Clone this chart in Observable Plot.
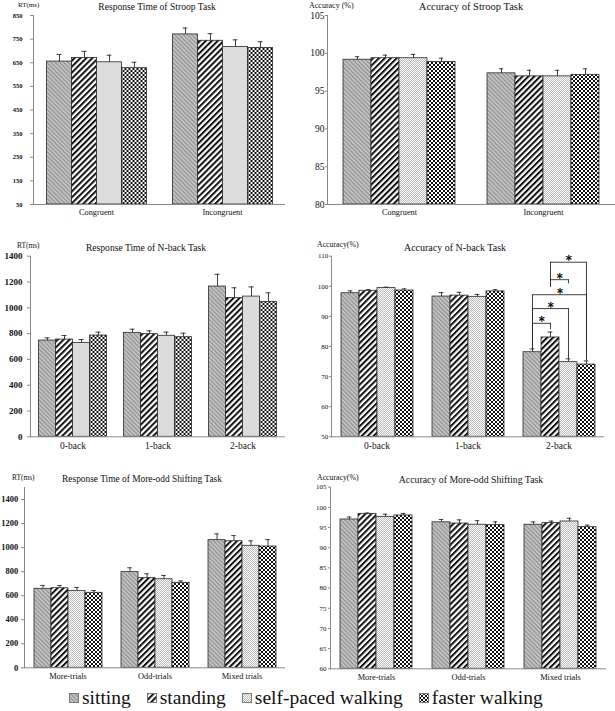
<!DOCTYPE html>
<html><head><meta charset="utf-8">
<script src="https://cdn.jsdelivr.net/npm/d3@7"></script>
<script src="https://cdn.jsdelivr.net/npm/@observablehq/plot@0.6"></script>
<style>
body{margin:0;background:#fff;}
#root{position:relative;width:615px;height:711px;overflow:hidden;font-family:"Liberation Serif","Times New Roman",serif;color:#111;}
.panel{position:absolute;}
.title{position:absolute;white-space:nowrap;transform:translate(-50%,-50%);}
.ylab{position:absolute;white-space:nowrap;transform:translateY(-50%);}
#legend{position:absolute;display:flex;align-items:center;white-space:nowrap;line-height:1;}
.li{display:flex;align-items:center;}
.li svg{margin-right:3px;}
</style></head><body>
<svg width="0" height="0" style="position:absolute">
<defs>
<pattern id="pSit" width="3" height="3" patternUnits="userSpaceOnUse" patternTransform="rotate(-45)"><rect width="3" height="3" fill="#c6c6c6"/><rect width="1.2" height="3" fill="#8e8e8e"/></pattern>
<pattern id="pSta" width="4.2" height="4.2" patternUnits="userSpaceOnUse" patternTransform="rotate(45)"><rect width="4.2" height="4.2" fill="#fff"/><rect width="2" height="4.2" fill="#111"/></pattern>
<pattern id="pSelf" width="2" height="2" patternUnits="userSpaceOnUse"><rect width="2" height="2" fill="#fbfbfb"/><rect width="1" height="1" fill="#bcbcbc"/><rect x="1" y="1" width="1" height="1" fill="#bcbcbc"/></pattern>
<pattern id="pFast" width="4" height="4" patternUnits="userSpaceOnUse"><rect width="4" height="4" fill="#fff"/><rect width="2" height="2" fill="#111"/><rect x="2" y="2" width="2" height="2" fill="#111"/></pattern>
</defs></svg>
<div id="root"></div>
<script>
// ---------- data ----------
const series = ["sitting", "standing", "self-paced walking", "faster walking"];
const seriesFills = ["url(#pSit)", "url(#pSta)", "url(#pSelf)", "url(#pFast)"];

const stroopCats = ["Congruent", "Incongruent"];
const stroopRT = [[655, 670, 652, 627], [770, 743, 717, 713]];
const stroopRTErr = [[30, 28, 30, 25], [27, 30, 30, 26]];
const stroopRTTicks = [50, 150, 250, 350, 450, 550, 650, 750, 850];

const stroopAcc = [[99.15, 99.35, 99.35, 98.85], [97.35, 96.95, 96.95, 97.15]];
const stroopAccErr = [[0.4, 0.4, 0.5, 0.5], [0.6, 0.8, 0.8, 0.8]];
const stroopAccTicks = [80, 85, 90, 95, 100, 105];

const nbackCats = ["0-back", "1-back", "2-back"];
const nbackRT = [[746, 754, 728, 785], [806, 796, 783, 772], [1165, 1075, 1087, 1046]];
const nbackRTErr = [[21, 31, 26, 26], [28, 25, 28, 31], [95, 80, 75, 70]];
const nbackRTTicks = [0, 200, 400, 600, 800, 1000, 1200, 1400];

const nbackAcc = [[97.7, 98.5, 99.4, 98.6], [96.6, 96.9, 96.5, 98.3], [78.1, 83.0, 74.8, 74.0]];
const nbackAccErr = [[0.8, 0.4, 0.3, 0.55], [1.3, 1.1, 0.8, 0.6], [1.1, 1.8, 1.1, 1.2]];
const nbackAccTicks = [50, 60, 70, 80, 90, 100, 110];

// significance brackets (2-back accuracy)
const sigPairs = [["sitting", "standing"], ["sitting", "self-paced walking"], ["sitting", "faster walking"], ["standing", "self-paced walking"], ["standing", "faster walking"]];
const sigLevels = [87.7, 92.6, 97.2, 102.2, 108.0];
const sigLegEnds = [[78.7, 85.6], [78.7, 76.0], [78.7, 75.4], [99.7, 100.8], [99.7, 75.4]];

const shiftCats = ["More-trials", "Odd-trials", "Mixed trials"];
const shiftRT = [[657, 662, 640, 624], [796, 746, 737, 707], [1062, 1053, 1015, 1009]];
const shiftRTErr = [[28, 23, 28, 19], [36, 36, 31, 16], [52, 47, 41, 58]];
const shiftRTTicks = [0, 200, 400, 600, 800, 1000, 1200, 1400];

const shiftAcc = [[97.0, 98.4, 97.65, 98.0], [96.3, 96.0, 95.7, 95.6], [95.7, 96.1, 96.5, 95.1]];
const shiftAccErr = [[0.6, 0.2, 0.65, 0.5], [0.7, 0.9, 1.0, 0.8], [0.7, 0.5, 0.8, 0.5]];
const shiftAccTicks = [60, 65, 70, 75, 80, 85, 90, 95, 100, 105];

// ---------- drawing ----------
const root = document.getElementById("root");
const groupPad = 0.5;
const axisGray = "#8a8a8a";
const ink = "#2a2a2a";

function addText(cls, txt, x, y, size) {
  const d = document.createElement("div");
  d.className = cls; d.textContent = txt;
  d.style.left = x + "px"; d.style.top = y + "px"; d.style.fontSize = size + "px";
  root.appendChild(d);
}

function panel(c) {
  const data = [];
  c.cats.forEach((cat, i) => series.forEach((s, j) =>
    data.push({cat, series: s, value: c.vals[i][j], hi: c.vals[i][j] + c.errs[i][j]})));
  const plotW = c.width - c.mL - c.mR;
  const bw = plotW / c.cats.length / (series.length + 2 * groupPad);
  const cap = Math.max(0, bw / 2 - 2.5);
  const base = c.domain[0];
  const marks = [
    Plot.barY(data, {fx: "cat", x: "series", y1: () => base, y2: "value", fill: "series", stroke: ink, strokeWidth: 0.8}),
    Plot.ruleX(data, {fx: "cat", x: "series", y1: "value", y2: "hi", stroke: ink, strokeWidth: 0.9}),
    Plot.tickY(data, {fx: "cat", x: "series", y: "hi", stroke: ink, strokeWidth: 0.9, insetLeft: cap, insetRight: cap}),
    Plot.ruleY([base], {stroke: axisGray}),
    Plot.frame({anchor: "left", facetAnchor: "left", stroke: axisGray}),
    Plot.axisY({ticks: c.ticks, tickFormat: d => String(d), tickSize: c.tickSize, tickPadding: c.tickPad, stroke: axisGray, fill: "#111",
      fontSize: c.tickFont, fontWeight: c.tickBold ? "bold" : "normal", label: null}),
    Plot.axisFx({anchor: "bottom", tickSize: 0, tickPadding: c.catPad, fontSize: c.catFont, fill: "#111", label: null})
  ];
  if (c.extra) marks.push(...c.extra(bw));
  const chart = Plot.plot({
    width: c.width, height: c.mT + c.plotH + c.mB,
    marginLeft: c.mL, marginRight: c.mR, marginTop: c.mT, marginBottom: c.mB,
    style: {fontFamily: "'Liberation Serif', 'Times New Roman', serif", background: "transparent", color: "#111"},
    fx: {domain: c.cats, padding: 0, label: null},
    x: {domain: series, paddingInner: 0, paddingOuter: groupPad, axis: null},
    y: {domain: c.domain, label: null},
    color: {type: "ordinal", domain: series, range: seriesFills},
    marks
  });
  const wrap = document.createElement("div");
  wrap.className = "panel";
  wrap.style.left = c.left + "px"; wrap.style.top = c.top + "px";
  wrap.appendChild(chart);
  root.appendChild(wrap);
  addText("title", c.title, c.titleX, c.titleY, c.titleFont);
  addText("ylab", c.ylab, c.ylabX, c.ylabY, c.ylabFont);
}

function sigMarks(bw) {
  const sig = sigPairs.map((p, i) => ({cat: "2-back", a: p[0], b: p[1], level: sigLevels[i],
    endA: sigLegEnds[i][0], endB: sigLegEnds[i][1], span: series.indexOf(p[1]) - series.indexOf(p[0])}));
  const m = [
    Plot.ruleX(sig, {fx: "cat", x: "a", y1: "endA", y2: "level", stroke: ink, strokeWidth: 0.9}),
    Plot.ruleX(sig, {fx: "cat", x: "b", y1: "endB", y2: "level", stroke: ink, strokeWidth: 0.9}),
    Plot.link(sig, {fx: "cat", x1: "a", x2: "b", y1: "level", y2: "level", stroke: ink, strokeWidth: 0.9})
  ];
  for (const span of [1, 2, 3]) {
    m.push(Plot.text(sig.filter(d => d.span === span), {fx: "cat", x: "a", y: "level", text: () => "*",
      dx: span * bw / 2, dy: 2, lineAnchor: "bottom", fontSize: 12, fontFamily: "'DejaVu Sans', sans-serif",
      fill: "#000", stroke: "#000", strokeWidth: 0.3}));
  }
  return m;
}

panel({cats: stroopCats, vals: stroopRT, errs: stroopRTErr, domain: [50, 850], ticks: stroopRTTicks,
  left: 0, top: 0, width: 300, mL: 32.5, mR: 15.5, mT: 15, plotH: 189, mB: 22,
  tickSize: 3, tickPad: 8, tickFont: 6.5, tickBold: true, catFont: 8.3, catPad: 4.5,
  title: "Response Time  of Stroop Task", titleX: 157, titleY: 6, titleFont: 9.6,
  ylab: "RT(ms)", ylabX: 18, ylabY: 5, ylabFont: 7});

panel({cats: stroopCats, vals: stroopAcc, errs: stroopAccErr, domain: [80, 105], ticks: stroopAccTicks,
  left: 305, top: 0, width: 310, mL: 22, mR: 0, mT: 15, plotH: 189, mB: 22,
  tickSize: 2, tickPad: 1, tickFont: 9.5, tickBold: false, catFont: 8.3, catPad: 4.5,
  title: "Accuracy of Stroop Task", titleX: 471, titleY: 6, titleFont: 10.5,
  ylab: "Accuracy (%)", ylabX: 309, ylabY: 5, ylabFont: 8});

panel({cats: nbackCats, vals: nbackRT, errs: nbackRTErr, domain: [0, 1400], ticks: nbackRTTicks,
  left: 0, top: 235, width: 300, mL: 29.5, mR: 15.5, mT: 20.7, plotH: 180.6, mB: 22,
  tickSize: 3, tickPad: 5, tickFont: 9, tickBold: true, catFont: 9.5, catPad: 5,
  title: "Response Time  of N-back Task", titleX: 146, titleY: 247.3, titleFont: 9.6,
  ylab: "RT(ms)", ylabX: 17, ylabY: 245, ylabFont: 7.4});

panel({cats: nbackCats, vals: nbackAcc, errs: nbackAccErr, domain: [50, 110], ticks: nbackAccTicks,
  left: 305, top: 235, width: 310, mL: 25, mR: 10, mT: 20.7, plotH: 180.6, mB: 22,
  tickSize: 2, tickPad: 1.3, tickFont: 7, tickBold: false, catFont: 9.5, catPad: 5,
  title: "Accuracy of N-back Task", titleX: 455, titleY: 247, titleFont: 10,
  ylab: "Accuracy(%)", ylabX: 317, ylabY: 244, ylabFont: 7.8, extra: sigMarks});

panel({cats: shiftCats, vals: shiftRT, errs: shiftRTErr, domain: [0, 1500], ticks: shiftRTTicks,
  left: 0, top: 465, width: 300, mL: 23, mR: 14.5, mT: 22, plotH: 180.3, mB: 22,
  tickSize: 3, tickPad: 3.3, tickFont: 8.5, tickBold: true, catFont: 8.4, catPad: 5,
  title: "Response Time  of More-odd Shifting  Task", titleX: 142, titleY: 479, titleFont: 9.4,
  ylab: "RT(ms)", ylabX: 12, ylabY: 477, ylabFont: 7.4});

panel({cats: shiftCats, vals: shiftAcc, errs: shiftAccErr, domain: [60, 105], ticks: shiftAccTicks,
  left: 305, top: 465, width: 310, mL: 24, mR: 9, mT: 21.7, plotH: 181.6, mB: 22,
  tickSize: 2, tickPad: 2, tickFont: 7, tickBold: false, catFont: 8.4, catPad: 5,
  title: "Accuracy of More-odd Shifting  Task", titleX: 471, titleY: 479, titleFont: 9.8,
  ylab: "Accuracy(%)", ylabX: 317, ylabY: 477, ylabFont: 7.8});

// ---------- legend ----------
const legend = document.createElement("div");
legend.id = "legend";
legend.style.left = "69px"; legend.style.top = "688px"; legend.style.fontSize = "19.5px";
series.forEach((s, i) => {
  const item = document.createElement("div");
  item.className = "li";
  item.style.marginRight = i < series.length - 1 ? "16px" : "0";
  item.innerHTML = `<svg width="10" height="10"><rect x="0.5" y="0.5" width="9" height="9" fill="${seriesFills[i]}" stroke="#777" stroke-width="1"/></svg><span>${s}</span>`;
  legend.appendChild(item);
});
root.appendChild(legend);
</script>
</body></html>
